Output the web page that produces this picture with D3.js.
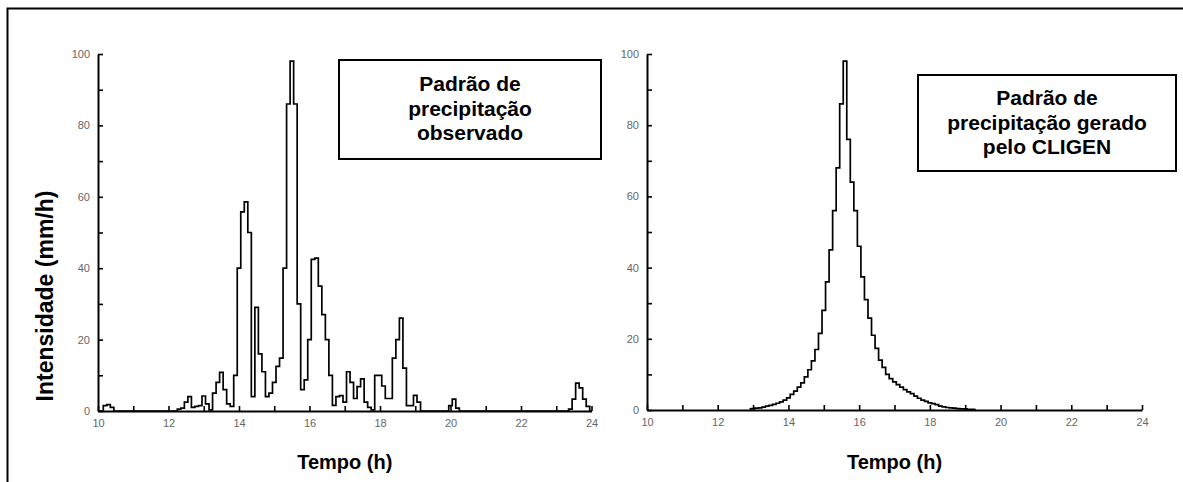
<!doctype html>
<html>
  <head>
    <meta charset="utf-8">
    <title>Padrão de precipitação</title>
    <script src="https://d3js.org/d3.v7.min.js"></script>
    <style type="text/css">
      body { margin: 0; background-color: #ffffff; }
      svg { display: block; font-family: "Liberation Sans", Arial, sans-serif; }
      .tick text { font-size: 11px; fill: #666; }
    </style>
  </head>
  <body>
    <script>
      // observed intensity (mm/h), every 0.1 h from 10.0 to 24.0
      var obsValues = [
        0, 0, 1.5, 1.8, 1.0,
        0, 0, 0, 0, 0, 0, 0, 0, 0, 0, 0, 0, 0, 0, 0, 0, 0, 0,
        0.5, 0.8, 2.5, 4, 1, 1.3, 1.5,
        4.2, 2, 0.3, 5, 8, 10.8, 6, 2, 1.3, 10,
        40, 55.8, 58.6, 50, 4, 29, 16, 11, 4, 5,
        8, 12.5, 14.8, 40, 86, 98, 86, 30, 6, 8.7,
        20, 42.5, 42.8, 35, 27, 20, 10, 1.6, 4, 4.3,
        2.5, 11, 8, 3.5, 6.8, 9, 2.5, 1, 0.3, 10,
        10, 7, 3.5, 3.5, 14.8, 20, 26, 12, 1.5, 1.5,
        4.4, 2.5, 0,
        0, 0, 0, 0, 0, 0, 0,
        1.5, 3.3, 0.8,
        0, 0, 0, 0, 0, 0, 0, 0, 0, 0, 0, 0, 0, 0, 0, 0, 0, 0, 0, 0, 0, 0, 0, 0, 0, 0, 0, 0, 0, 0, 0,
        0.5, 3.3, 7.8, 6.5, 3.3, 1.3, 0
      ];
      var obsStart = 10;

      // CLIGEN generated intensity (mm/h), every 0.1 h from 12.9 to 19.3
      var genValues = [
        0.3, 0.4, 0.5, 0.6, 0.8, 1.1, 1.3, 1.6, 1.9, 2.3,
        2.8, 3.4, 4.4, 5.3, 6.4, 7.6, 9.3, 11.3, 13.8, 17,
        21.5, 28, 36, 45, 56, 68, 86, 98, 76, 64,
        56, 46, 37.4, 31, 25.8, 21, 17.3, 14, 12, 10,
        8.8, 7.9, 7.1, 6.4, 5.7, 5.1, 4.6, 3.9, 3.3, 2.8,
        2.4, 2.0, 1.8, 1.5, 1.1, 0.9, 0.7, 0.6, 0.5, 0.4,
        0.3, 0.3, 0.2, 0.2, 0.1
      ];
      var genStart = 12.9;

      var hourTicks = [10, 11, 12, 13, 14, 15, 16, 17, 18, 19, 20, 21, 22, 23, 24];
      var intensityTicks = [0, 10, 20, 30, 40, 50, 60, 70, 80, 90, 100];

      var xTitle = "Tempo (h)";
      var yTitle = "Intensidade (mm/h)";
      var obsLabel = ["Padrão de", "precipitação", "observado"];
      var genLabel = ["Padrão de", "precipitação gerado", "pelo CLIGEN"];

      var w = 1183;
      var h = 482;

      var svg = d3.select("body")
        .append("svg")
        .attr("width", w)
        .attr("height", h);

      // outer frame (runs off the right and bottom edges)
      svg.append("rect")
        .attr("x", 7.5).attr("y", 8.5)
        .attr("width", 1300).attr("height", 600)
        .attr("fill", "none")
        .attr("stroke", "#000")
        .attr("stroke-width", 2);

      function toPoints(values, start) {
        return values.map(function(v, i) { return [start + i / 10, v]; });
      }

      function drawPanel(opt) {
        var x = d3.scaleLinear().domain([10, 24]).range([opt.x0, opt.x1]);
        var y = d3.scaleLinear().domain([0, 100]).range([opt.y0, opt.y1]);
        var g = svg.append("g");

        var line = d3.line()
          .x(function(d) { return x(d[0]); })
          .y(function(d) { return y(d[1]); })
          .curve(d3.curveStep);

        g.append("path")
          .datum(opt.points)
          .attr("d", line)
          .attr("fill", "none")
          .attr("stroke", "#000")
          .attr("stroke-width", 1.7);

        var xAxis = g.append("g")
          .attr("transform", "translate(0," + opt.y0 + ")")
          .call(d3.axisBottom(x)
            .tickValues(hourTicks)
            .tickSize(-5)
            .tickSizeOuter(0)
            .tickPadding(8)
            .tickFormat(function(d) { return d % 2 === 0 ? d : ""; }));

        var yAxis = g.append("g")
          .attr("transform", "translate(" + opt.x0 + ",0)")
          .call(d3.axisLeft(y)
            .tickValues(intensityTicks)
            .tickSize(-5)
            .tickSizeOuter(0)
            .tickPadding(8)
            .tickFormat(function(d) { return d % 20 === 0 ? d : ""; }));

        [xAxis, yAxis].forEach(function(a) {
          a.select(".domain").attr("stroke-width", 2);
          a.selectAll(".tick line").attr("stroke-width", 1.6);
          a.selectAll(".tick text").attr("font-family", null).attr("font-size", null);
        });

        g.append("text")
          .attr("x", (opt.x0 + opt.x1) / 2)
          .attr("y", 469)
          .attr("text-anchor", "middle")
          .attr("font-size", 20)
          .attr("font-weight", "bold")
          .text(xTitle);

        // legend box
        g.append("rect")
          .attr("x", opt.box[0]).attr("y", opt.box[1])
          .attr("width", opt.box[2]).attr("height", opt.box[3])
          .attr("fill", "#fff")
          .attr("stroke", "#000")
          .attr("stroke-width", 2);

        g.selectAll(".lbl")
          .data(opt.label)
          .enter()
          .append("text")
          .attr("x", opt.box[0] + opt.box[2] / 2)
          .attr("y", function(d, i) { return opt.textY + i * 24.5; })
          .attr("text-anchor", "middle")
          .attr("font-size", 21)
          .attr("font-weight", "bold")
          .text(function(d) { return d; });
      }

      drawPanel({
        x0: 98, x1: 591.5, y0: 411, y1: 54,
        points: toPoints(obsValues, obsStart),
        box: [339, 60, 262, 99],
        textY: 91,
        label: obsLabel
      });

      drawPanel({
        x0: 647, x1: 1142, y0: 410, y1: 54,
        points: toPoints(genValues, genStart),
        box: [918, 75, 258, 96],
        textY: 105,
        label: genLabel
      });

      svg.append("text")
        .attr("transform", "translate(53,296) rotate(-90)")
        .attr("text-anchor", "middle")
        .attr("font-size", 23)
        .attr("font-weight", "bold")
        .text(yTitle);
    </script>
  </body>
</html>
